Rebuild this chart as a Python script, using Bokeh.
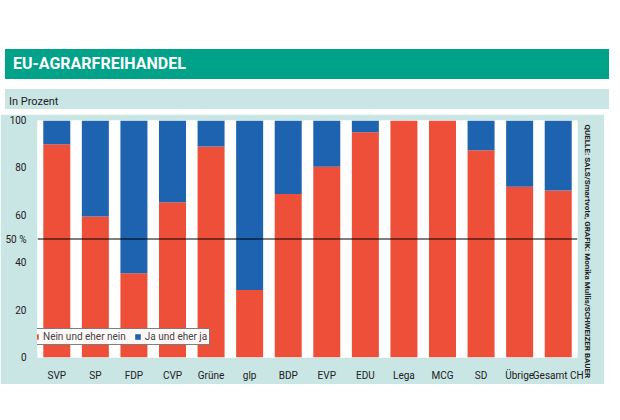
from bokeh.plotting import figure
from bokeh.models import Span, Title, Div, Spacer, Legend, FixedTicker, ColumnDataSource
from bokeh.layouts import column
from bokeh.embed import file_html
from bokeh.resources import INLINE

parties = ["SVP", "SP", "FDP", "CVP", "Grüne", "glp", "BDP", "EVP", "EDU", "Lega", "MCG", "SD", "Übrige", "Gesamt CH"]
nein = [90, 59.5, 35.5, 65.5, 89, 28.5, 69, 80.5, 95, 100, 100, 87.5, 72, 70.5]
ja = [100 - v for v in nein]
yticks = [0, 20, 40, 50, 60, 80, 100]
ytick_labels = {0: "0", 20: "20", 40: "40", 50: "50 %", 60: "60", 80: "80", 100: "100"}

FONT = "Roboto"
PANEL = "#c9e5e4"
src = ColumnDataSource(dict(party=parties, nein=nein, ja=ja))

p = figure(x_range=parties, y_range=(0, 100), width=604, height=270,
           output_backend="svg", toolbar_location=None,
           min_border_left=37, min_border_right=27, min_border_top=6, min_border_bottom=27)
p.x_range.range_padding = 0
p.border_fill_color = PANEL
p.background_fill_color = "white"
p.outline_line_color = None
p.xgrid.grid_line_color = None
p.ygrid.grid_line_color = None

r = p.vbar_stack(["nein", "ja"], x="party", width=0.7, source=src,
                 color=["#ee4f38", "#1d63b0"], line_color=None)

p.add_layout(Span(location=50, dimension="width", line_color="black", line_width=1.2, level="overlay"))

leg = Legend(items=[("Nein und eher nein", [r[0]]), ("Ja und eher ja", [r[1]])],
             location="bottom_right", orientation="horizontal",
             border_line_color="black", border_line_width=1.5,
             label_text_font=FONT, label_text_font_size="10px",
             glyph_width=7, glyph_height=7, spacing=8, padding=2, margin=0,
             label_standoff=4, label_height=11)
leg.location = (-8, 12)
p.add_layout(leg)

p.yaxis.ticker = FixedTicker(ticks=yticks)
p.yaxis.major_label_overrides = ytick_labels
for ax in (p.xaxis, p.yaxis):
    ax.axis_line_color = None
    ax.major_tick_line_color = None
    ax.minor_tick_line_color = None
    ax.major_label_text_font = FONT
    ax.major_label_text_font_size = "10px"
    ax.major_label_text_color = "#222222"
p.xaxis.major_label_standoff = 6

p.add_layout(Title(text="QUELLE: SALS/Smartvote, GRAFIK: Monika Mullis/SCHWEIZER BAUER",
                   text_font=FONT, text_font_size="8px", text_font_style="bold",
                   align="left", text_color="#222222", offset=4), "right")

header = Div(text="EU-AGRARFREIHANDEL", width=604, height=30,
             styles={"background-color": "#00a38a", "color": "white", "font-family": FONT,
                     "font-weight": "bold", "font-size": "16px", "padding-left": "8px",
                     "line-height": "30px", "box-sizing": "border-box", "width": "604px",
                     "height": "30px", "overflow": "hidden"})
sub = Div(text="In Prozent", width=604, height=20,
          styles={"background-color": PANEL, "color": "#222222", "font-family": FONT,
                  "font-size": "11px", "padding-left": "4px", "line-height": "26px",
                  "box-sizing": "border-box", "width": "604px", "height": "20px", "overflow": "hidden"})
layout = column(Spacer(width=604, height=44), header, sub, p, spacing=0)

open("out.html", "w").write(file_html(layout, INLINE))
